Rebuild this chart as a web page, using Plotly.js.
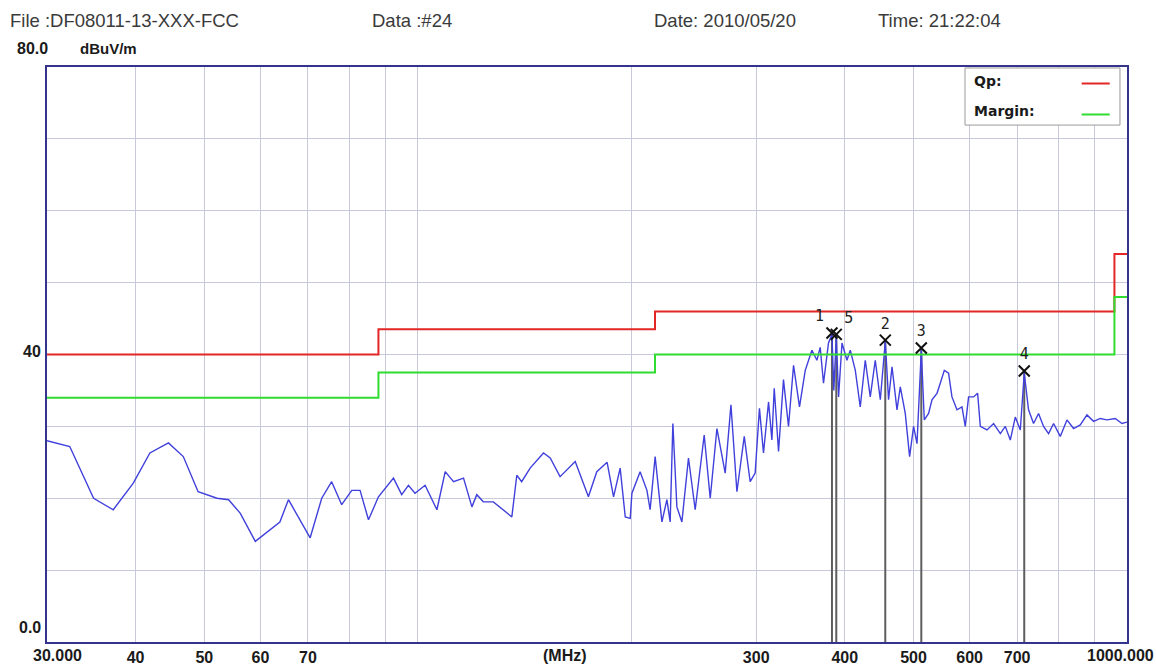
<!DOCTYPE html>
<html>
<head>
<meta charset="utf-8">
<script src="https://cdn.plot.ly/plotly-3.0.1.min.js"></script>
<style>
html,body{margin:0;padding:0;background:#fff;}
#chart{width:1156px;height:666px;}
</style>
</head>
<body>
<div id="chart"></div>
<script>
// ---- data (MHz, dBuV/m) ----
const freq = [30,32.3,34.9,37.2,39.7,41.9,44.5,46.7,49.0,52.1,54.1,56.2,59.0,61.2,63.9,65.7,68.2,70.5,73.2,75.6,
  78.1,80.7,82.9,85.2,88.0,92.4,94.9,97.0,99.1,102.4,106.4,109.3,112.3,116.0,119.2,121.1,123.7,127.8,135.7,137.9,
  140.1,144.0,150.4,153.7,158.7,166.7,174.0,178.8,184.9,188.8,192.9,196.1,199.3,200.4,205.8,210.4,212.6,216.1,220.9,224.5,
  226.9,228.9,231.9,235.7,240.8,246.1,253.4,258.4,264.1,268.4,271.3,276.4,281.8,288.6,294.2,299.0,303.2,307.2,312.3,315.7,
  318.1,322.6,327.8,333.2,338.7,345.3,351.8,359.5,365.4,369.3,373.3,379.4,383.7,386.0,389.1,392.0,396.4,402.8,407.2,413.9,
  420.6,427.5,434.5,441.6,448.9,456.2,461.1,466.3,473.9,479.0,486.8,493.7,500.1,505.7,512.8,517.8,525.1,530.9,539.6,545.4,
  552.6,560.3,566.5,575.8,585.2,591.5,597.9,607.7,615.7,621.1,634.7,648.5,662.8,673.6,684.6,695.8,707.2,716.3,726.4,738.3,
  750.4,762.7,775.2,787.9,805.2,822.9,840.7,859.2,878.1,897.1,916.9,937.0,962.6,983.8,1000];
const level = [28.0,27.2,20.0,18.4,22.1,26.3,27.7,25.8,20.9,20.0,19.8,17.9,14.0,15.3,16.7,19.8,17.0,14.5,20.0,22.3,
  19.1,21.1,21.1,17.0,20.2,22.8,20.5,21.8,20.7,21.8,18.4,23.7,22.3,22.8,18.8,20.5,19.5,19.5,17.4,23.2,
  22.3,24.2,26.3,25.6,23.0,25.1,20.2,23.7,25.0,20.2,24.2,17.4,17.2,20.7,23.7,21.1,18.4,25.8,16.7,19.8,
  16.7,30.4,18.8,16.7,25.6,18.4,28.8,20.0,29.7,25.8,23.5,33.0,20.9,28.6,22.3,23.5,32.5,26.3,33.4,28.1,
  35.3,26.5,36.5,30.0,38.5,32.7,37.8,40.6,39.2,41.0,36.0,41.6,42.8,35.0,42.5,34.1,41.6,39.2,40.6,37.8,
  32.7,39.2,34.1,39.2,33.7,41.8,33.7,38.3,32.3,35.5,31.8,25.8,30.0,27.6,40.6,30.9,31.8,33.7,34.6,36.0,
  37.8,37.4,34.1,32.3,32.7,30.0,34.1,34.1,34.6,30.0,29.5,30.4,29.0,30.0,28.1,31.3,29.5,37.4,32.3,30.4,
  31.8,30.0,29.0,30.4,28.6,30.9,29.7,30.2,31.6,30.7,31.1,30.9,31.1,30.4,30.6];

const limitFreq = [30, 88, 88, 216, 216, 960, 960, 1000];
const limitQp = [40, 40, 43.5, 43.5, 46, 46, 54, 54];
const limitMargin = [34, 34, 37.5, 37.5, 40, 40, 48, 48];

const markerFreq = [383.7, 389.1, 456.2, 512.8, 716.3];
const markerLevel = [43.0, 42.8, 42.0, 40.9, 37.7];
const markerLabel = ['1', '5', '2', '3', '4'];

const xTickVals = [30,40,50,60,70,80,90,100,200,300,400,500,600,700,800,900,1000];
const xTickText = ['','40','50','60','70','','','','','300','400','500','600','700','','',''];
const xEndVals = [30, 1000];
const xEndText = ['30.000', '1000.000'];
const yTickVals = [0,10,20,30,40,50,60,70,80];
const yLabelVals = [80, 40, 0];
const yLabelText = ['80.0', '40', '0.0'];

const headerText = ['File :DF08011-13-XXX-FCC', 'Data :#24', 'Date: 2010/05/20', 'Time: 21:22:04'];
const legendNames = ['Qp:', 'Margin:'];

// ---- build ----
const FB = 'Liberation Sans, Arial, sans-serif';
const mlx = [], mly = [];
markerFreq.forEach((f, i) => { mlx.push(f, f, null); mly.push(0, markerLevel[i], null); });

const traces = [
  {x: mlx, y: mly, mode: 'lines', line: {color: '#5e5e5e', width: 2}, hoverinfo: 'skip', showlegend: false},
  {x: freq, y: level, mode: 'lines', line: {color: '#4040dc', width: 1.4}, showlegend: false},
  {x: limitFreq, y: limitQp, mode: 'lines', line: {color: '#e32626', width: 2}, name: legendNames[0], showlegend: false},
  {x: limitFreq, y: limitMargin, mode: 'lines', line: {color: '#2fdc2f', width: 2}, name: legendNames[1], showlegend: false},
  {x: markerFreq, y: markerLevel, mode: 'markers+text', text: markerLabel,
   textposition: ['top left', 'top right', 'top center', 'top center', 'top center'],
   textfont: {family: 'DejaVu Sans Mono, monospace', size: 15, color: '#222'},
   marker: {symbol: 'x-thin', size: 11, line: {width: 2, color: '#111'}, color: '#111'}, showlegend: false, cliponaxis: false}
];

const annotations = [];
const headerX = [-0.0361, 0.2991, 0.5602, 0.7676];
headerText.forEach((t, i) => annotations.push({
  text: t, xref: 'paper', yref: 'paper', x: headerX[i], y: 1.0817, xanchor: 'left', yanchor: 'middle',
  showarrow: false, font: {family: FB, size: 18.5, color: '#3a3a3a'}
}));
const yShift = [19, 3, 15];
const yXShift = [3, -4, -4];
yLabelVals.forEach((v, i) => annotations.push({
  text: '<b>' + yLabelText[i] + '</b>', xref: 'paper', yref: 'y', x: 0, y: v, xanchor: 'right', yanchor: 'middle',
  xshift: yXShift[i], yshift: yShift[i], showarrow: false, font: {family: FB, size: 16, color: '#1a1a1a'}
}));
// x end labels (through the x scale)
const xEndAnchor = ['left', 'right'];
const xEndShift = [-16, 29];
xEndVals.forEach((v, i) => annotations.push({
  text: '<b>' + xEndText[i] + '</b>', xref: 'x', yref: 'paper', x: Math.log10(v), y: 0, xanchor: xEndAnchor[i], yanchor: 'top',
  xshift: xEndShift[i], yshift: -3, showarrow: false, font: {family: FB, size: 16, color: '#1a1a1a'}
}));
annotations.push({text: '<b>dBuV/m</b>', xref: 'paper', yref: 'y', x: 0.0287, y: 80, xanchor: 'left', yanchor: 'middle',
  yshift: 19, showarrow: false, font: {family: FB, size: 15, color: '#1a1a1a'}});
annotations.push({text: '<b>(MHz)</b>', xref: 'paper', yref: 'paper', x: 0.4796, y: 0, xanchor: 'center', yanchor: 'top',
  yshift: -3, showarrow: false, font: {family: FB, size: 16, color: '#1a1a1a'}});
// legend box
annotations.push({text: '<b>' + legendNames[0] + '</b>', xref: 'paper', yref: 'paper', x: 0.8565, y: 0.9765, xanchor: 'left', yanchor: 'middle',
  showarrow: false, font: {family: 'DejaVu Sans, sans-serif', size: 14, color: '#1a1a1a'}});
annotations.push({text: '<b>' + legendNames[1] + '</b>', xref: 'paper', yref: 'paper', x: 0.8565, y: 0.9235, xanchor: 'left', yanchor: 'middle',
  showarrow: false, font: {family: 'DejaVu Sans, sans-serif', size: 14, color: '#1a1a1a'}});

const shapes = [
  {type: 'rect', xref: 'paper', yref: 'paper', x0: 0.85, x1: 0.9935, y0: 0.899, y1: 0.9983,
   fillcolor: '#ffffff', line: {color: '#9a9a9a', width: 1}, layer: 'above'},
  {type: 'line', xref: 'paper', yref: 'paper', x0: 0.958, x1: 0.984, y0: 0.9713, y1: 0.9713, line: {color: '#e32626', width: 2}},
  {type: 'line', xref: 'paper', yref: 'paper', x0: 0.958, x1: 0.984, y0: 0.9174, y1: 0.9174, line: {color: '#2fdc2f', width: 2}}
];

const layout = {
  width: 1156, height: 666,
  margin: {l: 47, r: 29, t: 67, b: 24},
  paper_bgcolor: '#ffffff', plot_bgcolor: '#ffffff',
  showlegend: false,
  xaxis: {type: 'log', range: [Math.log10(30), 3], tickvals: xTickVals, ticktext: xTickText,
    showgrid: true, gridcolor: '#c9c9dc', gridwidth: 1, zeroline: false,
    showline: true, linecolor: '#34348c', linewidth: 2, mirror: true, ticks: '',
    tickfont: {family: FB, size: 16, color: '#1a1a1a', weight: 'bold'}},
  yaxis: {range: [0, 80], tickvals: yTickVals, showticklabels: false,
    showgrid: true, gridcolor: '#c9c9dc', gridwidth: 1, zeroline: false,
    showline: true, linecolor: '#34348c', linewidth: 2, mirror: true, ticks: ''},
  annotations: annotations,
  shapes: shapes
};

Plotly.newPlot('chart', traces, layout, {displayModeBar: false, staticPlot: true});
</script>
</body>
</html>
